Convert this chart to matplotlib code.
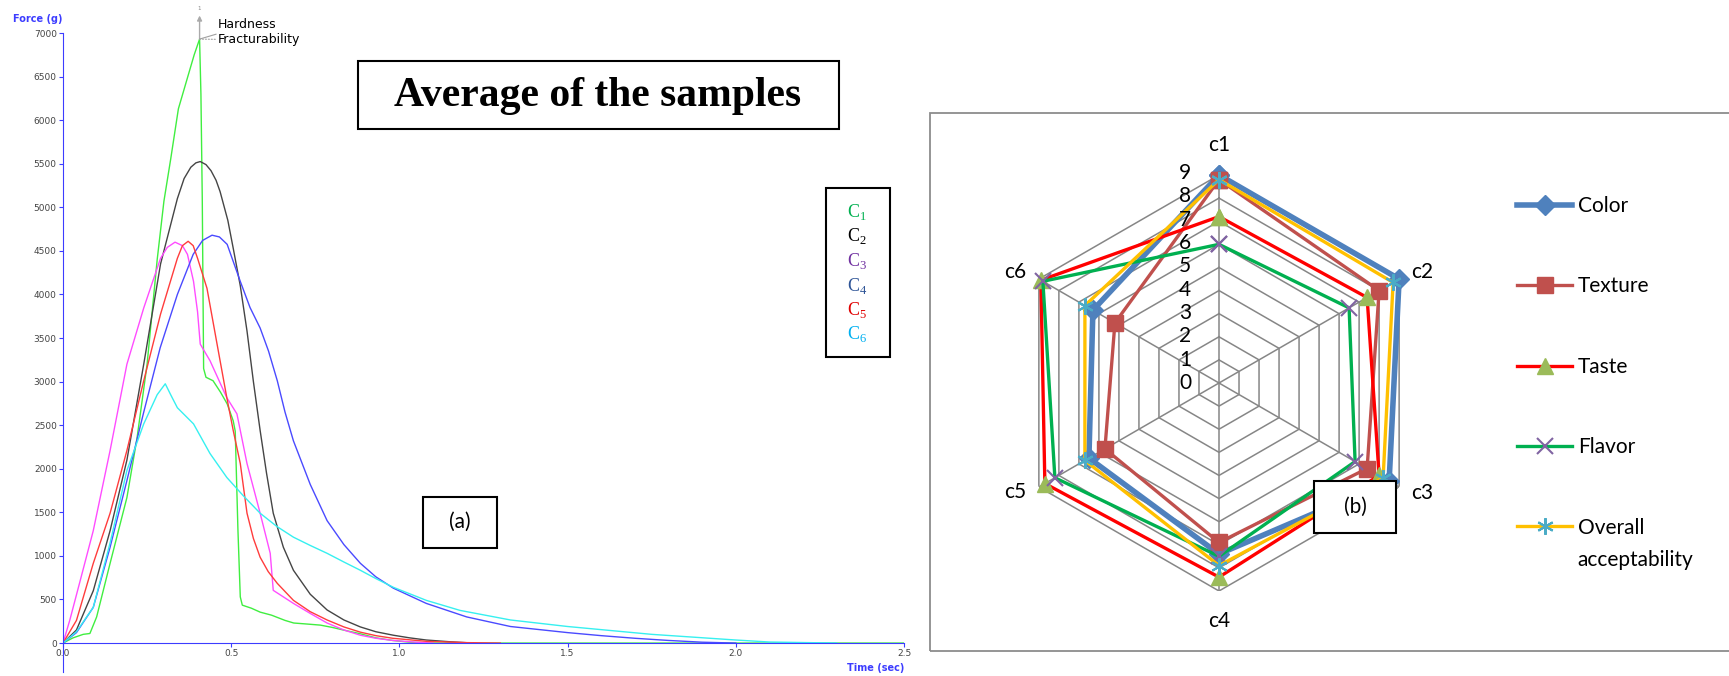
import numpy as np
import matplotlib
matplotlib.use('Agg')
import matplotlib.pyplot as plt
from matplotlib.patches import Rectangle

plt.rcParams['mathtext.fontset'] = 'custom'
plt.rcParams['mathtext.rm'] = 'Liberation Serif'

# ---- texture profile curves (time in sec, force in g) ----
t1 = [0, 0.03, 0.06, 0.08, 0.10, 0.14, 0.19, 0.22, 0.25, 0.28, 0.30, 0.32, 0.343, 0.371, 0.39, 0.406,
      0.410, 0.414, 0.418, 0.425, 0.446, 0.468, 0.488, 0.506, 0.512, 0.520, 0.527, 0.533, 0.56, 0.586,
      0.62, 0.66, 0.686, 0.72, 0.765, 0.80, 0.833, 0.88, 0.93, 0.98, 1.03, 1.10, 2.5]
f1 = [0, 60, 100, 110, 300, 915, 1670, 2350, 3200, 4400, 5070, 5550, 6130, 6500, 6750, 6930,
      6300, 5100, 3150, 3050, 3010, 2880, 2745, 2550, 2430, 1300, 530, 435, 400, 355,
      320, 260, 230, 220, 206, 180, 150, 110, 60, 30, 10, 0, 0]

t2 = [0, 0.04, 0.09, 0.14, 0.19, 0.24, 0.29, 0.34, 0.36, 0.38, 0.395, 0.408, 0.425, 0.44, 0.455, 0.467,
      0.49, 0.506, 0.527, 0.547, 0.566, 0.586, 0.605, 0.625, 0.655, 0.685, 0.735, 0.785, 0.835, 0.884,
      0.93, 0.982, 1.03, 1.08, 1.15, 1.22]
f2 = [0, 150, 600, 1290, 2100, 3200, 4350, 5100, 5330, 5460, 5510, 5525, 5490, 5420, 5310, 5180,
      4850, 4530, 4100, 3580, 3000, 2440, 1950, 1490, 1100, 835, 560, 380, 265, 185,
      130, 90, 60, 35, 15, 0]

t3 = [0, 0.02, 0.05, 0.09, 0.14, 0.19, 0.24, 0.29, 0.31, 0.333, 0.355, 0.37, 0.388, 0.400, 0.408, 0.437,
      0.487, 0.517, 0.547, 0.586, 0.616, 0.625, 0.655, 0.685, 0.735, 0.785, 0.835, 0.884, 0.93, 0.98,
      1.05, 1.1]
f3 = [0, 260, 700, 1290, 2210, 3200, 3845, 4415, 4540, 4600, 4560, 4460, 4150, 3800, 3430, 3240,
      2815, 2630, 2060, 1490, 1030, 605, 530, 455, 340, 230, 150, 90, 55, 30,
      10, 0]

t4 = [0, 0.04, 0.09, 0.14, 0.19, 0.24, 0.289, 0.34, 0.387, 0.415, 0.443, 0.465, 0.488, 0.527, 0.556, 0.586,
      0.611, 0.637, 0.66, 0.685, 0.735, 0.785, 0.835, 0.884, 0.93, 0.982, 1.08, 1.2, 1.33, 1.5,
      1.6, 1.7, 1.8, 1.9, 2.0]
f4 = [0, 120, 410, 1100, 1865, 2650, 3390, 4000, 4460, 4620, 4680, 4660, 4575, 4150, 3850, 3615,
      3350, 3010, 2650, 2320, 1820, 1405, 1130, 915, 760, 630, 455, 300, 190, 120,
      85, 55, 30, 10, 0]

t5 = [0, 0.04, 0.09, 0.14, 0.19, 0.24, 0.29, 0.34, 0.355, 0.372, 0.387, 0.40, 0.428, 0.458, 0.487, 0.506,
      0.527, 0.547, 0.566, 0.586, 0.61, 0.637, 0.685, 0.735, 0.785, 0.835, 0.884, 0.93, 0.98, 1.08,
      1.2, 1.3]
f5 = [0, 260, 915, 1490, 2210, 3010, 3775, 4415, 4560, 4610, 4560, 4415, 4070, 3430, 2815, 2440,
      2060, 1490, 1200, 985, 820, 685, 490, 360, 265, 185, 125, 85, 55, 20,
      5, 0]

t6 = [0, 0.04, 0.09, 0.14, 0.19, 0.24, 0.28, 0.304, 0.32, 0.34, 0.388, 0.437, 0.487, 0.536, 0.586, 0.635,
      0.685, 0.735, 0.785, 0.835, 0.884, 0.93, 0.982, 1.08, 1.18, 1.33, 1.5, 1.75, 2.0, 2.1, 2.3]
f6 = [0, 130, 410, 1150, 1980, 2515, 2850, 2975, 2850, 2700, 2515, 2175, 1900, 1690, 1490, 1340,
      1215, 1120, 1030, 930, 835, 740, 640, 490, 375, 265, 190, 100, 35, 12, 0]

curve_colors = ['#40ee40', '#454545', '#ff4cff', '#4a4aff', '#ff3c3c', '#36f0f0']
legend_names = ['C$_1$', 'C$_2$', 'C$_3$', 'C$_4$', 'C$_5$', 'C$_6$']
legend_colors = ['#00b050', '#000000', '#7030a0', '#2f5597', '#e00000', '#00b0f0']

# ---- sensory scores (radar) ----
samples = ['c1', 'c2', 'c3', 'c4', 'c5', 'c6']
color_sc = [9.0, 9.0, 8.5, 7.4, 6.5, 6.3]
texture_sc = [8.8, 8.0, 7.4, 6.9, 5.7, 5.2]
taste_sc = [7.2, 7.4, 8.0, 8.4, 8.7, 8.9]
flavor_sc = [6.0, 6.5, 6.8, 7.5, 8.2, 8.8]
overall_sc = [8.8, 8.7, 8.2, 7.9, 6.7, 6.7]

W, H = 1729, 676


def fx(px):
    return px / W


def fy(py):
    return 1 - py / H


fig = plt.figure(figsize=(W / 100, H / 100), dpi=100)

# ================= (a) texture profile =================
blue = '#3c3cff'
ax = fig.add_axes([fx(63), fy(672), fx(904) - fx(63), fy(33) - fy(672)])
ax.patch.set_alpha(0)
for t, f, c in zip([t1, t2, t3, t4, t5, t6], [f1, f2, f3, f4, f5, f6], curve_colors):
    ax.plot(t, f, color=c, lw=1.0)

ax.set_xlim(0, 2.5)
ax.set_ylim(-332, 7000)
ax.spines['top'].set_visible(False)
ax.spines['right'].set_visible(False)
ax.spines['left'].set_color(blue)
ax.spines['bottom'].set_color(blue)
ax.spines['bottom'].set_position(('data', 0))
ax.set_yticks(range(0, 7001, 500))
ax.set_xticks([0, 0.5, 1.0, 1.5, 2.0, 2.5])
ax.set_xticklabels(['0.0', '0.5', '1.0', '1.5', '2.0', '2.5'])
ax.tick_params(direction='out', length=3, color=blue, labelsize=6.5, labelcolor='#444444', pad=1.5)

# hardness / fracturability markers at the green peak
ip = int(np.argmax(f1))
pt, pf = t1[ip], f1[ip]
ax.annotate('', xy=(pt, 7200), xytext=(pt, pf), annotation_clip=False,
            arrowprops=dict(arrowstyle='-|>', color='#aaaaaa', lw=1, mutation_scale=7, shrinkA=0, shrinkB=0))
ax.text(pt, 7250, '1', fontsize=4, color='#888888', ha='center', va='bottom', clip_on=False)
ax.annotate('Hardness', xy=(pt, pf), xytext=(0.461, 7093), ha='left', va='center', fontsize=9,
            annotation_clip=False,
            arrowprops=dict(arrowstyle='-', color='#a0a0a0', lw=0.8, shrinkA=0, shrinkB=0))
ax.annotate('Fracturability', xy=(pt, pf), xytext=(0.461, 6921), ha='left', va='center', fontsize=9,
            annotation_clip=False,
            arrowprops=dict(arrowstyle='-', color='#a0a0a0', lw=0.8, ls=':', shrinkA=0, shrinkB=0))

fig.text(fx(62), fy(19), 'Force (g)', ha='right', va='center', color=blue, fontweight='bold', fontsize=7)
fig.text(fx(904), fy(668), 'Time (sec)', ha='right', va='center', color=blue, fontweight='bold', fontsize=7)

# title box
fig.patches.append(Rectangle((fx(358), fy(129)), fx(839) - fx(358), fy(61) - fy(129),
                             transform=fig.transFigure, fill=False, ec='black', lw=1.5))
fig.text(fx(598), fy(96), 'Average of the samples', ha='center', va='center',
         family='Liberation Serif', fontweight='bold', fontsize=30)

# sample legend box
fig.patches.append(Rectangle((fx(826), fy(357)), fx(890) - fx(826), fy(188) - fy(357),
                             transform=fig.transFigure, fill=False, ec='black', lw=1.5))
for i, (name, c) in enumerate(zip(legend_names, legend_colors)):
    fig.text(fx(857), fy(212 + i * 24.5), name, ha='center', va='center', color=c,
             family='Liberation Serif', fontsize=13)

# (a) label
fig.patches.append(Rectangle((fx(423), fy(548)), fx(497) - fx(423), fy(497) - fy(548),
                             transform=fig.transFigure, fill=False, ec='black', lw=1.5))
fig.text(fx(460), fy(522), '(a)', ha='center', va='center', family='Lato', fontsize=15)

# ================= (b) radar chart =================
fig.patches.append(Rectangle((fx(930), fy(651)), fx(1760) - fx(930), fy(113) - fy(651),
                             transform=fig.transFigure, fill=False, ec='#8c8c8c', lw=1.3))

rad = 208
ax2 = fig.add_axes([fx(1219 - rad), fy(383 + rad), 2 * rad / W, 2 * rad / H], projection='polar')
ax2.set_theta_offset(np.pi / 2)
ax2.set_theta_direction(-1)
ax2.set_ylim(0, 9)
ax2.grid(False)
ax2.spines['polar'].set_visible(False)
ax2.set_xticks([])
ax2.set_yticks([])
ax2.patch.set_alpha(0)

angles = np.arange(len(samples)) * 2 * np.pi / len(samples)
ang_closed = np.append(angles, angles[0])
grid_c = '#868686'
for k in range(1, 10):
    ax2.plot(ang_closed, [k] * len(ang_closed), color=grid_c, lw=1.1, zorder=1)
for a in angles:
    ax2.plot([a, a], [0, 9], color=grid_c, lw=1.1, zorder=1)

series = [
    ('Color', color_sc, '#4f81bd', 4.0, dict(marker='D', ms=10, mfc='#4f81bd', mec='#4f81bd')),
    ('Texture', texture_sc, '#c0504d', 2.4, dict(marker='s', ms=11, mfc='#c0504d', mec='#c0504d')),
    ('Taste', taste_sc, '#ff0000', 2.4, dict(marker='^', ms=12, mfc='#9bbb59', mec='#9bbb59')),
    ('Flavor', flavor_sc, '#00b050', 2.4, dict(marker='x', ms=11, mec='#8064a2', mew=1.5)),
    ('Overall', overall_sc, '#ffc000', 2.4, dict(marker=(6, 2, 0), ms=12, mec='#4bacc6', mew=1.5)),
]
handles = []
for label, vals, c, lw, mk in series:
    v = np.append(vals, vals[0])
    ln, = ax2.plot(ang_closed, v, color=c, lw=lw, label=label, zorder=3, clip_on=False, **mk)
    handles.append(ln)

# category labels, offset (px) from the outer ring vertex
label_offsets = [(0, 30), (23, 7), (23, -6), (0, -30), (-24, -5), (-24, 7)]
for a, s, (ox, oy) in zip(angles, samples, label_offsets):
    ax2.annotate(s, xy=(a, 9), xytext=(ox * 0.72, oy * 0.72), textcoords='offset points',
                 ha='center', va='center', family='Lato', fontsize=15)
for k in range(10):
    ax2.annotate(str(k), xy=(0, k), xytext=(-20, 1.5 * k / 9), textcoords='offset points',
                 ha='right', va='center', family='Lato', fontsize=15)

fig.legend(handles, [h.get_label() for h in handles], loc='upper left',
           bbox_to_anchor=(fx(1517), fy(196)), frameon=False,
           prop={'family': 'Lato', 'size': 15}, labelspacing=2.9,
           handlelength=2.64, handletextpad=0.3, borderaxespad=0, borderpad=0)
fig.text(fx(1577), fy(560), 'acceptability', ha='left', va='center', family='Lato', fontsize=15)

# (b) label
fig.patches.append(Rectangle((fx(1314), fy(533)), fx(1396) - fx(1314), fy(481) - fy(533),
                             transform=fig.transFigure, fc='white', ec='black', lw=1.5, zorder=5))
fig.text(fx(1355), fy(507), '(b)', ha='center', va='center', family='Lato', fontsize=15, zorder=6)

fig.savefig('out.png', dpi=100)
